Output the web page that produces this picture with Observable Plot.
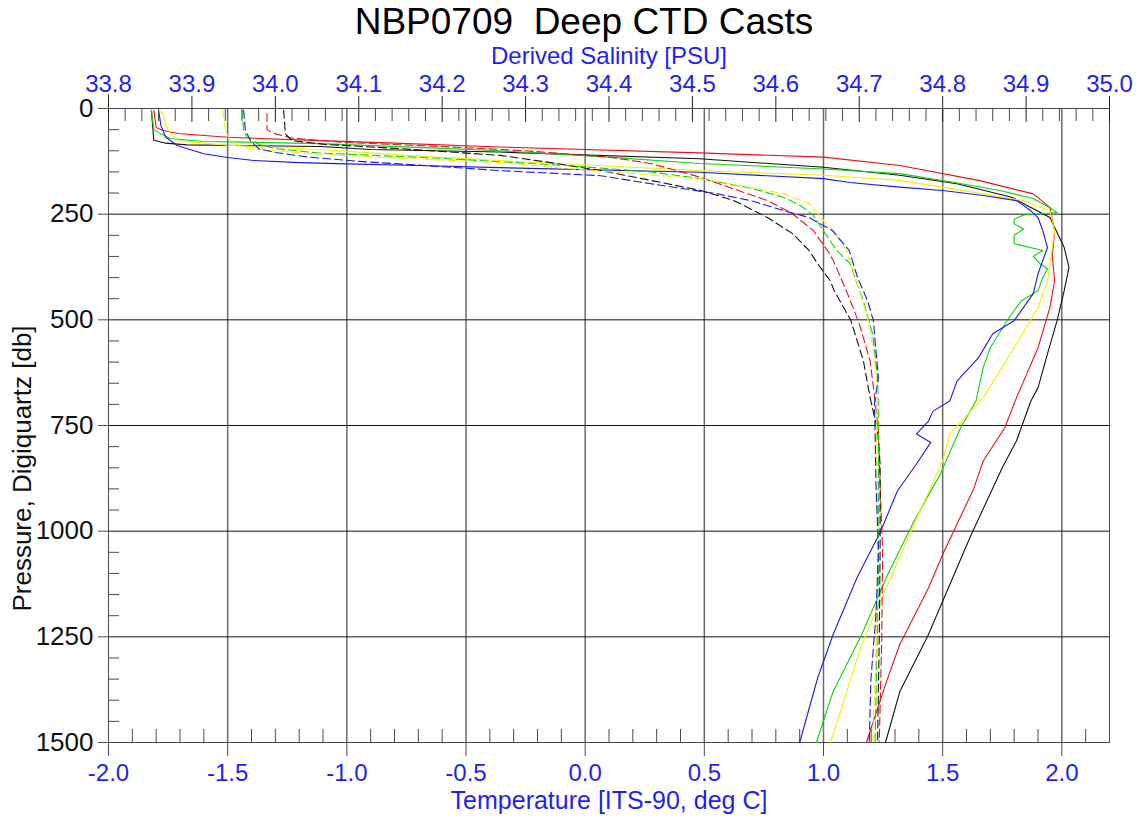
<!DOCTYPE html>
<html><head><meta charset="utf-8">
<script src="https://cdn.jsdelivr.net/npm/d3@7"></script>
<script src="https://cdn.jsdelivr.net/npm/@observablehq/plot@0.6"></script>
<style>
body{margin:0;background:#fff;}
#chart{position:relative;width:1141px;height:818px;overflow:hidden;}
#chart svg{position:absolute;left:0;top:0;}
</style></head><body><div id="chart"></div>
<script>
// ---- Data: [pressure (db), temperature (deg C)] — solid lines ----
const redTemp = [[4,-1.81],[45,-1.80],[52,-1.77],[59,-1.71],[68,-1.50],[76,-1.11],[82,-0.80],[91,-0.36],[105,0.48],[115,1.00],[135,1.32],[170,1.65],[202,1.88],[234,1.95],[289,1.97],[350,1.96],[407,1.97],[471,1.95],[566,1.90],[684,1.81],[756,1.76],[834,1.67],[900,1.63],[1055,1.50],[1135,1.44],[1268,1.32],[1363,1.26],[1500,1.18]];
const blackTemp = [[4,-1.82],[75,-1.81],[82,-1.76],[86,-1.67],[90,-1.11],[97,-0.90],[103,-0.36],[119,0.48],[139,1.00],[158,1.32],[178,1.56],[210,1.79],[258,1.95],[329,2.01],[376,2.03],[431,2.01],[502,1.98],[580,1.94],[661,1.90],[692,1.87],[786,1.81],[850,1.75],[1008,1.62],[1166,1.50],[1245,1.44],[1380,1.32],[1500,1.26]];
const greenTemp = [[4,-1.82],[50,-1.81],[60,-1.78],[71,-1.74],[78,-1.60],[83,-1.11],[92,-0.70],[100,-0.36],[115,0.10],[130,0.48],[143,1.00],[154,1.32],[175,1.55],[194,1.74],[213,1.88],[235,1.95],[246,1.98],[252,1.84],[262,1.80],[273,1.80],[285,1.84],[300,1.80],[320,1.80],[336,1.92],[350,1.88],[368,1.91],[379,1.94],[400,1.92],[431,1.90],[455,1.83],[502,1.77],[566,1.70],[613,1.67],[692,1.64],[756,1.575],[865,1.49],[976,1.38],[1102,1.27],[1245,1.16],[1380,1.04],[1500,0.97]];
const yellowTemp = [[4,-1.78],[20,-1.77],[40,-1.76],[59,-1.74],[76,-1.71],[87,-1.50],[97,-1.11],[111,-0.75],[123,-0.36],[135,0.05],[147,0.48],[158,1.00],[170,1.32],[202,1.67],[218,1.84],[242,1.95],[289,1.97],[368,1.95],[407,1.94],[471,1.90],[566,1.80],[684,1.67],[770,1.53],[834,1.50],[983,1.38],[1126,1.27],[1268,1.16],[1500,1.03]];
const blueTemp = [[4,-1.79],[40,-1.78],[68,-1.76],[88,-1.71],[107,-1.60],[116,-1.50],[123,-1.39],[128,-1.20],[131,-1.00],[135,-0.70],[140,-0.36],[151,0.48],[166,1.00],[175,1.11],[186,1.32],[194,1.50],[206,1.67],[218,1.81],[242,1.87],[258,1.90],[289,1.92],[329,1.94],[360,1.92],[391,1.90],[438,1.88],[502,1.80],[533,1.71],[590,1.65],[645,1.56],[692,1.53],[716,1.46],[740,1.44],[770,1.39],[790,1.45],[841,1.39],[905,1.31],[1000,1.24],[1111,1.14],[1245,1.04],[1348,0.975],[1500,0.90]];

// ---- Data: [pressure (db), salinity (PSU)] — dashed lines ----
const redSal = [[12,33.99],[50,33.99],[60,34.00],[70,34.02],[80,34.08],[90,34.20],[100,34.30],[115,34.40],[130,34.45],[163,34.51],[218,34.59],[249,34.62],[289,34.645],[336,34.662],[360,34.669],[438,34.686],[509,34.70],[597,34.713],[692,34.719],[763,34.723],[888,34.725],[1047,34.728],[1250,34.727],[1500,34.724]];
const blackSal = [[4,34.01],[60,34.012],[76,34.02],[85,34.06],[95,34.15],[111,34.27],[128,34.33],[147,34.39],[170,34.45],[194,34.51],[218,34.55],[258,34.59],[296,34.62],[336,34.64],[367,34.65],[407,34.665],[431,34.67],[502,34.69],[597,34.705],[684,34.713],[763,34.722],[841,34.725],[1047,34.725],[1250,34.724],[1500,34.722]];
const greenSal = [[4,33.96],[50,33.962],[68,33.966],[83,33.978],[95,34.00],[105,34.05],[118,34.20],[135,34.35],[150,34.45],[166,34.51],[190,34.573],[210,34.609],[230,34.63],[253,34.645],[289,34.657],[336,34.673],[367,34.689],[400,34.695],[455,34.705],[533,34.716],[637,34.722],[732,34.723],[888,34.723],[1100,34.723],[1300,34.721],[1500,34.719]];
const yellowSal = [[4,33.937],[50,33.94],[80,33.946],[95,33.97],[105,34.03],[115,34.12],[128,34.27],[142,34.35],[154,34.43],[166,34.51],[187,34.57],[202,34.61],[225,34.64],[258,34.654],[289,34.669],[336,34.685],[415,34.698],[495,34.71],[573,34.717],[668,34.722],[810,34.72],[888,34.722],[1100,34.722],[1300,34.72],[1500,34.716]];
const blueSal = [[4,33.962],[50,33.964],[76,33.97],[95,33.98],[104,34.00],[115,34.04],[125,34.10],[135,34.18],[147,34.27],[159,34.39],[178,34.45],[190,34.49],[202,34.53],[218,34.57],[242,34.61],[258,34.64],[289,34.668],[336,34.688],[400,34.698],[455,34.71],[502,34.717],[550,34.719],[637,34.723],[700,34.718],[763,34.719],[888,34.72],[1047,34.723],[1200,34.72],[1350,34.714],[1500,34.712]];

const castNames = ["red", "black", "green", "yellow", "blue"];
const castColors = ["#e8101a", "#1a1010", "#10d010", "#f2f000", "#1a1ae6"];
const castTemps = [redTemp, blackTemp, greenTemp, yellowTemp, blueTemp];
const castSals = [redSal, blackSal, greenSal, yellowSal, blueSal];

// ---- Axes ----
const tempDomain = [-2.0, 2.2];
const salDomain = [33.8, 35.0];
const pressDomain = [0, 1500];
const tempMajor = [-2.0, -1.5, -1.0, -0.5, 0.0, 0.5, 1.0, 1.5, 2.0];
const salMajor = [33.8, 33.9, 34.0, 34.1, 34.2, 34.3, 34.4, 34.5, 34.6, 34.7, 34.8, 34.9, 35.0];
const pressMajor = [0, 250, 500, 750, 1000, 1250, 1500];
const tempMinor = d3.range(0, 42).filter(i => i % 5 !== 0).map(i => -2 + i * 0.1);
const salMinor = d3.range(0, 60).filter(i => i % 5 !== 0).map(i => 33.8 + i * 0.02);
const pressMinor = d3.range(0, 30).filter(i => i % 5 !== 0).map(i => i * 50);

const titleText = "NBP0709\u00a0 Deep CTD Casts";
const salLabel = "Derived Salinity [PSU]";
const tempLabel = "Temperature [ITS-90, deg C]";
const pressLabel = "Pressure, Digiquartz [db]";

const W = 1141, H = 818;
const M = {top: 108, right: 32, bottom: 76, left: 108};
const frameW = W - M.left - M.right;
const frameH = H - M.top - M.bottom;
const FONT = "'Liberation Sans', Arial, sans-serif";
const NARROW = "'Liberation Sans Narrow', 'Arial Narrow', 'Liberation Sans', sans-serif";
const BLUE = "#1f1ff5";
const AX = "#4a4a4a";

const tempLines = castTemps.map((arr, i) =>
  Plot.line(arr.map(([p, t]) => ({p, t, cast: castNames[i]})), {x: "t", y: "p", stroke: castColors[i], strokeWidth: 1.1}));
const salLines = castSals.map((arr, i) =>
  Plot.line(arr.map(([p, s]) => ({p, s, cast: castNames[i]})), {x: "s", y: "p", stroke: castColors[i], strokeWidth: 1.1, strokeDasharray: "8,4"}));

const common = {width: W, height: H, marginTop: M.top, marginRight: M.right, marginBottom: M.bottom, marginLeft: M.left};

const tempPlot = Plot.plot({
  ...common,
  style: {fontFamily: FONT, background: "white", overflow: "visible"},
  x: {domain: tempDomain},
  y: {domain: pressDomain, reverse: true},
  marks: [
    Plot.gridX(tempMajor.filter(d => d > tempDomain[0]), {stroke: "#6a6a6a", strokeOpacity: 1, strokeWidth: 1.5}),
    Plot.gridY(pressMajor.filter(d => d > 0 && d < 1500), {stroke: "#111", strokeOpacity: 1}),
    Plot.ruleX(tempMinor, {stroke: AX, insetTop: frameH - 13}),
    Plot.ruleY(pressMinor, {stroke: AX, insetRight: frameW - 11}),
    Plot.frame({stroke: AX}),
    Plot.ruleX([tempDomain[0]], {stroke: AX, insetTop: -14, insetBottom: -14}),
    Plot.axisX(tempMajor, {anchor: "bottom", tickSize: 14, tickPadding: 7, tickFormat: d => d.toFixed(1), fontSize: 24, fontFamily: NARROW, fill: BLUE, stroke: AX, label: null}),
    Plot.axisY(pressMajor, {anchor: "left", tickSize: 10, tickPadding: 5, tickFormat: d => String(d), fontSize: 26, fontFamily: NARROW, fill: "#111", stroke: AX, label: null}),
    ...tempLines,
    Plot.text([titleText], {frameAnchor: "top", lineAnchor: "middle", dx: -25, dy: -86, fontSize: 37, fill: "#000"}),
    Plot.text([tempLabel], {frameAnchor: "bottom", lineAnchor: "middle", dy: 58, fontSize: 25, fill: BLUE}),
    Plot.text([pressLabel], {frameAnchor: "left", lineAnchor: "middle", textAnchor: "middle", dx: -86, dy: 43, rotate: -90, fontSize: 26, fill: "#111"})
  ]
});

const salPlot = Plot.plot({
  ...common,
  style: {fontFamily: FONT, background: "transparent", overflow: "visible"},
  x: {domain: salDomain},
  y: {domain: pressDomain, reverse: true, axis: null},
  marks: [
    Plot.ruleX(salMinor, {stroke: AX, insetBottom: frameH - 13}),
    Plot.ruleX(salMajor, {stroke: "#222", insetBottom: frameH - 14}),
    Plot.axisX(salMajor, {anchor: "top", tickSize: 13, tickPadding: 4, tickFormat: d => d.toFixed(1), fontSize: 24, fontFamily: NARROW, fill: BLUE, stroke: "#222", label: null}),
    ...salLines,
    Plot.text([salLabel], {frameAnchor: "top", lineAnchor: "middle", dy: -52, fontSize: 24, fill: BLUE})
  ]
});

const chart = document.getElementById("chart");
chart.appendChild(tempPlot);
chart.appendChild(salPlot);
</script></body></html>
